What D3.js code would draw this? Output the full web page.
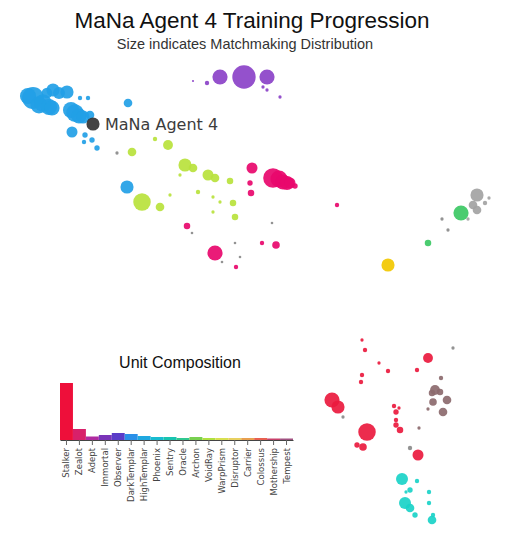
<!DOCTYPE html>
<html>
<head>
<meta charset="utf-8">
<script src="https://cdn.jsdelivr.net/npm/d3@7"></script>
<style>
  body { margin: 0; background: #fff; }
  svg { display: block; }
</style>
</head>
<body>
<svg id="chart" width="519" height="536"></svg>
<script>
// embedding coordinates [x, y, matchmaking weight]
const blueAgents = [[3.3,9.8,8.3],[2.8,9.6,4.5],[3.9,10.5,5.0],[4.3,10.3,5.3],[4.9,10.7,4.5],[5.2,10.8,4.0],[4.7,9.3,2.0],[5.3,9.0,3.0],[5.9,9.3,2.5],[6.7,9.2,3.0],[7.1,11.0,4.5],[7.5,11.3,5.3],[7.9,11.6,4.0],[8.3,11.7,3.0],[9.0,11.5,1.3],[7.2,13.2,2.1],[12.8,10.3,1.3],[8.0,9.8,0.33],[8.8,9.8,0.33],[8.5,13.5,0.5],[9.2,14.0,0.5],[9.7,14.8,0.5],[8.4,14.2,0.33],[12.7,18.7,3.0]]
const purpleAgents = [[22.0,7.7,4.0],[24.4,7.7,9.5],[26.7,7.7,4.0],[20.7,8.3,0.33],[19.3,8.1,0.08],[26.3,8.7,0.19],[26.7,9.0,0.19],[28.0,9.7,0.19]]
const limeAgents = [[15.5,13.9,0.33],[16.8,14.5,1.7],[13.2,15.2,1.3],[18.5,16.5,3.0],[19.3,16.8,1.3],[20.8,17.5,2.1],[21.5,17.8,1.3],[23.0,18.1,0.74],[14.2,20.2,5.3],[16.0,20.7,1.3],[23.3,20.3,0.74],[23.5,21.7,0.74],[19.8,19.2,0.33],[21.3,19.7,0.19],[22.0,20.2,0.19],[21.3,21.2,0.19],[18.0,17.5,0.19],[17.0,19.5,0.19]]
const magentaAgents = [[25.2,16.8,2.1],[27.3,17.8,6.7],[27.9,17.9,5.0],[28.3,18.2,4.0],[28.7,18.3,3.5],[29.0,18.3,2.1],[29.5,18.6,0.5],[25.0,18.3,0.5],[25.1,19.3,0.74],[18.7,22.6,0.74],[21.5,25.3,4.0],[23.6,26.7,0.33],[26.2,24.3,0.33],[27.6,24.5,1.0],[33.7,20.5,0.33]]
const greyDots = [[11.7,15.3,0.19],[19.2,23.3,0.12],[23.5,24.3,0.12],[24.0,25.7,0.12],[22.2,26.2,0.12],[27.2,22.3,0.12],[44.2,21.9,0.19],[44.8,23.0,0.19],[34.3,41.7,0.19],[45.3,34.8,0.19],[41.0,44.8,0.33]]
const greyAgents = [[47.7,19.5,3.0],[47.3,20.5,1.3],[47.7,21.0,1.3],[48.5,20.3,0.33],[48.9,19.8,0.19],[46.8,21.9,0.19]]
const greenAgents = [[46.1,21.3,4.0],[42.8,24.3,0.74]]
const yellowAgents = [[38.8,26.5,3.0]]
const redAgents = [[42.8,35.8,1.7],[36.2,34.0,0.19],[36.5,35.0,0.33],[37.9,36.3,0.19],[38.8,37.1,0.33],[41.7,37.0,0.33],[36.2,37.5,0.33],[36.1,38.2,0.33],[33.2,40.0,4.0],[33.8,40.7,3.0],[36.7,43.2,5.3],[35.7,44.5,0.5],[36.3,44.7,1.0],[41.8,45.5,2.1],[39.4,40.6,0.33],[39.6,41.2,0.5],[39.9,40.8,0.19],[39.6,42.0,0.33],[39.6,42.5,0.5],[40.0,43.0,0.74]]
const brownAgents = [[43.5,39.0,1.7],[43.2,39.3,0.74],[44.0,39.2,0.74],[44.7,40.0,1.3],[43.3,40.2,1.0],[44.3,41.2,1.3],[44.1,37.8,0.33],[42.8,40.9,0.19],[41.9,42.8,0.19]]
const cyanAgents = [[40.2,47.9,2.5],[41.7,48.1,0.33],[41.0,49.0,0.5],[40.6,49.2,0.19],[42.9,49.2,0.33],[40.5,50.3,2.5],[41.0,50.8,1.3],[42.9,50.3,0.33],[41.5,51.5,0.5],[43.2,52.0,1.3],[43.3,51.5,0.33]]
const manaAgent = [[9.3,12.4,3.0]]

const clusters = [
  { pts: greyDots, color: "#8a8a8a" },
  { pts: blueAgents, color: "#22a0e6" },
  { pts: purpleAgents, color: "#8b42c8" },
  { pts: limeAgents, color: "#b8e23c" },
  { pts: magentaAgents, color: "#e8086c" },
  { pts: greyAgents, color: "#a3a3a3" },
  { pts: greenAgents, color: "#3cc864" },
  { pts: yellowAgents, color: "#f2c800" },
  { pts: redAgents, color: "#ea1a3e" },
  { pts: brownAgents, color: "#8c6a6e" },
  { pts: cyanAgents, color: "#1ad2c8" },
  { pts: manaAgent, color: "#333333" }
]

// unit composition
const units = ["Stalker","Zealot","Adept","Immortal","Observer","DarkTemplar","HighTemplar","Phoenix","Sentry","Oracle","Archon","VoidRay","WarpPrism","Disruptor","Carrier","Colossus","Mothership","Tempest"]
const unitShare = [0.57,0.11,0.035,0.05,0.07,0.06,0.04,0.03,0.03,0.02,0.03,0.02,0.02,0.02,0.02,0.02,0.015,0.015]
const unitColors = ["#ee0f3a","#d8206a","#b02aa0","#7a34b8","#5a3cc8","#2a90e8","#20a8e0","#18bcd0","#18c4b0","#30c890","#78d050","#b0e040","#d8e050","#e8d060","#e8a050","#e86050","#c8406a","#a05080"]

const svg = d3.select("#chart")

const x = d3.scaleLinear().domain([0, 51.9]).range([0, 519])
const y = d3.scaleLinear().domain([0, 53.6]).range([0, 536])
const r = d3.scaleSqrt().domain([0, 10]).range([0, 12])

clusters.forEach(c => {
  svg.append("g").selectAll("circle")
    .data(c.pts)
    .join("circle")
    .attr("cx", d => x(d[0]))
    .attr("cy", d => y(d[1]))
    .attr("r", d => r(d[2]))
    .attr("fill", c.color)
    .attr("fill-opacity", 0.92)
})

svg.append("text")
  .attr("x", x(manaAgent[0][0]) + 12)
  .attr("y", y(manaAgent[0][1]) + 6)
  .style("font-family", "DejaVu Sans")
  .style("font-size", "16px")
  .style("fill", "#3c3c3c")
  .text("MaNa Agent 4")

// titles
svg.append("text")
  .attr("x", 252).attr("y", 28)
  .attr("text-anchor", "middle")
  .style("font-family", "Liberation Sans, Arial")
  .style("font-size", "22.5px")
  .style("fill", "#111")
  .text("MaNa Agent 4 Training Progression")

svg.append("text")
  .attr("x", 245).attr("y", 49)
  .attr("text-anchor", "middle")
  .style("font-family", "Liberation Sans, Arial")
  .style("font-size", "14.5px")
  .style("fill", "#333")
  .text("Size indicates Matchmaking Distribution")

// bar chart
const bx = d3.scaleBand().domain(units).range([60, 293]).padding(0)
const by = d3.scaleLinear().domain([0, 0.6]).range([440, 380])

svg.append("text")
  .attr("x", 180).attr("y", 368)
  .attr("text-anchor", "middle")
  .style("font-family", "Liberation Sans, Arial")
  .style("font-size", "16px")
  .style("fill", "#111")
  .text("Unit Composition")

svg.append("g").selectAll("rect")
  .data(units)
  .join("rect")
  .attr("x", d => bx(d))
  .attr("width", bx.bandwidth())
  .attr("y", (d, i) => by(unitShare[i]))
  .attr("height", (d, i) => by(0) - by(unitShare[i]))
  .attr("fill", (d, i) => unitColors[i])

const axis = svg.append("g")
  .attr("transform", "translate(0,440)")
  .call(d3.axisBottom(bx).tickSize(5).tickSizeOuter(0))
axis.select(".domain").attr("stroke", "#444")
axis.selectAll(".tick line").attr("stroke", "#666")
axis.selectAll("text")
  .attr("transform", "rotate(-90)")
  .attr("text-anchor", "end")
  .attr("x", -8)
  .attr("y", 0)
  .attr("dy", "0.35em")
  .style("font-family", "DejaVu Sans")
  .style("font-size", "8.5px")
  .style("fill", "#444")
</script>
</body>
</html>
